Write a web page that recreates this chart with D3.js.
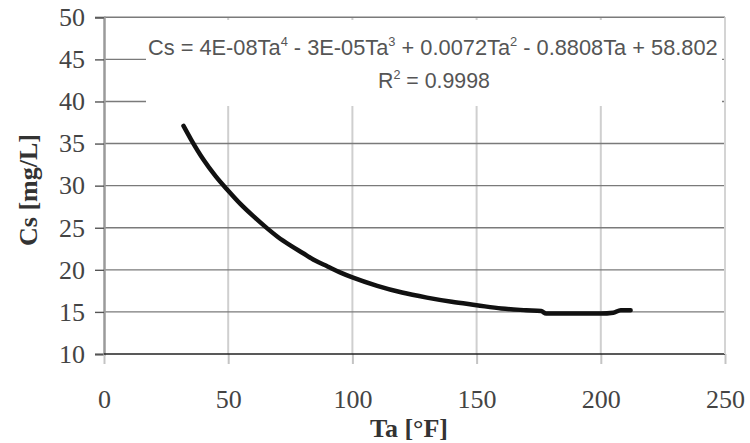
<!DOCTYPE html>
<html>
<head>
<meta charset="utf-8">
<script src="https://cdn.jsdelivr.net/npm/d3@7"></script>
<style>
  html, body { margin: 0; padding: 0; background: #fff; }
  svg { display: block; }
</style>
</head>
<body>
<div id="chart"></div>
<script>
// data
const taValues = [32, 35, 40, 45, 50, 55, 60, 65, 70, 75, 80, 85, 90, 95, 100, 110, 120, 130, 140, 150, 160, 170, 176, 178, 190, 200, 205, 208, 212]
const csValues = [37.1, 35.5, 33.1, 31.1, 29.4, 27.8, 26.4, 25.1, 23.9, 22.9, 22.0, 21.1, 20.4, 19.7, 19.1, 18.1, 17.3, 16.7, 16.2, 15.8, 15.4, 15.2, 15.1, 14.8, 14.8, 14.8, 14.9, 15.2, 15.2]
const xTicks = [0, 50, 100, 150, 200, 250]
const yTicks = [10, 15, 20, 25, 30, 35, 40, 45, 50]
const eqParts = [['Cs = 4E-08Ta', '4'], [' - 3E-05Ta', '3'], [' + 0.0072Ta', '2'], [' - 0.8808Ta + 58.802', '']]
const r2Parts = [['R', '2'], [' = 0.9998', '']]

const width = 750
const height = 443
const pLeft = 104, pRight = 725, pTop = 17.3, pBottom = 354

const svg = d3.select('#chart').append('svg')
    .attr('width', width)
    .attr('height', height)

const x = d3.scaleLinear().domain([0, 250]).range([pLeft, pRight])
const y = d3.scaleLinear().domain([10, 50]).range([pBottom, pTop])

const data = taValues.map((t, i) => ({ta: t, cs: csValues[i]}))

// vertical grid (light)
svg.append('g')
    .selectAll('line')
    .data(xTicks.filter(d => d > 0))
    .join('line')
    .attr('x1', d => x(d)).attr('x2', d => x(d))
    .attr('y1', pTop).attr('y2', pBottom)
    .attr('stroke', '#cfcfcf')
    .attr('stroke-width', 2)

// horizontal grid (dark)
svg.append('g')
    .selectAll('line')
    .data(yTicks.filter(d => d > 10))
    .join('line')
    .attr('x1', pLeft).attr('x2', pRight)
    .attr('y1', d => y(d)).attr('y2', d => y(d))
    .attr('stroke', '#7a7a7a')
    .attr('stroke-width', 1.4)

// box behind the trendline equation
svg.append('rect')
    .attr('x', 146).attr('y', 20)
    .attr('width', 576).attr('height', 86)
    .attr('fill', '#fff')

// left axis
const yAxis = svg.append('g')
    .attr('transform', `translate(${pLeft},0)`)
    .call(d3.axisLeft(y).tickValues(yTicks).tickSize(9).tickPadding(10))
yAxis.select('.domain').attr('stroke', '#9a9a9a').attr('stroke-width', 2.5)
yAxis.selectAll('.tick line').attr('stroke', '#555').attr('stroke-width', 1.4)
yAxis.selectAll('.tick text')
    .attr('font-family', 'Liberation Serif, Times New Roman, serif')
    .attr('font-size', 26)
    .attr('fill', '#444')

// bottom axis
const xAxis = svg.append('g')
    .attr('transform', `translate(0,${pBottom})`)
    .call(d3.axisBottom(x).tickValues(xTicks).tickSize(10).tickPadding(26))
xAxis.select('.domain').remove()
xAxis.selectAll('.tick line').attr('stroke', '#c4c4c4').attr('stroke-width', 2)
xAxis.selectAll('.tick text')
    .attr('font-family', 'Liberation Serif, Times New Roman, serif')
    .attr('font-size', 26)
    .attr('fill', '#444')

// bottom line at 10
svg.append('line')
    .attr('x1', pLeft).attr('x2', pRight)
    .attr('y1', y(10)).attr('y2', y(10))
    .attr('stroke', '#222').attr('stroke-width', 1.6)

// right border
svg.append('line')
    .attr('x1', pRight).attr('x2', pRight)
    .attr('y1', pTop).attr('y2', pBottom)
    .attr('stroke', '#d4d4d4').attr('stroke-width', 2)

// curve
const line = d3.line()
    .x(d => x(d.ta))
    .y(d => y(d.cs))
    .curve(d3.curveMonotoneX)

svg.append('path')
    .datum(data)
    .attr('d', line)
    .attr('fill', 'none')
    .attr('stroke', '#111')
    .attr('stroke-width', 4.5)
    .attr('stroke-linecap', 'round')

// text with superscripts, squeezed to a given width
function supText(parts, x0, y0, w) {
    const t = svg.append('text')
        .attr('x', x0).attr('y', y0)
        .attr('font-family', 'Liberation Sans, Arial, sans-serif')
        .attr('font-size', 22)
        .attr('fill', '#555')
    let up = false
    parts.forEach(([txt, sup]) => {
        t.append('tspan').attr('dy', up ? 9 : 0).text(txt)
        up = false
        if (sup) {
            t.append('tspan').attr('dy', -9).attr('font-size', 13).text(sup)
            up = true
        }
    })
    const len = t.node().getComputedTextLength()
    t.attr('transform', `translate(${x0},0) scale(${w / len},1) translate(${-x0},0)`)
}

supText(eqParts, 148, 55, 570)
supText(r2Parts, 378, 88, 112)

// axis titles
svg.append('text')
    .attr('x', 409).attr('y', 437)
    .attr('text-anchor', 'middle')
    .attr('font-family', 'Liberation Serif, Times New Roman, serif')
    .attr('font-weight', 'bold')
    .attr('font-size', 26)
    .attr('fill', '#333')
    .text('Ta [°F]')

svg.append('text')
    .attr('transform', 'translate(37,190) rotate(-90)')
    .attr('text-anchor', 'middle')
    .attr('font-family', 'Liberation Serif, Times New Roman, serif')
    .attr('font-weight', 'bold')
    .attr('font-size', 26)
    .attr('fill', '#333')
    .text('Cs [mg/L]')
</script>
</body>
</html>
